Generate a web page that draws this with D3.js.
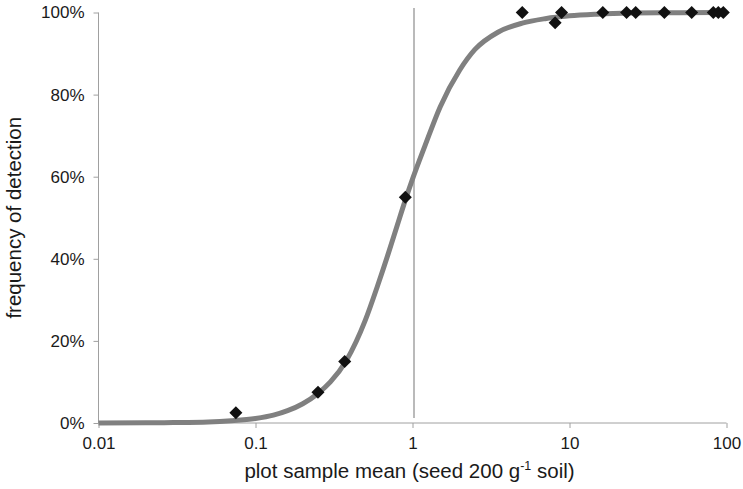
<!DOCTYPE html>
<html>
<head>
<meta charset="utf-8">
<script src="https://cdn.jsdelivr.net/npm/d3@7"></script>
<style>
  html, body { margin: 0; padding: 0; background: #fff; }
  svg { display: block; }
  text { font-family: "Liberation Sans", Arial, sans-serif; fill: #1a1a1a; }
</style>
</head>
<body>
<svg id="chart" width="743" height="489"></svg>
<script>
// Observed detection frequency per plot sample mean (seed 200 g^-1 soil)
const sampleMeans = [0.075, 0.25, 0.37, 0.9, 5.0, 8.1, 8.9, 16.3, 23.1, 26.4, 40.2, 60, 82.4, 88.7, 95.4];
const detectionFreq = [0.025, 0.075, 0.15, 0.55, 1.0, 0.975, 1.0, 1.0, 1.0, 1.0, 1.0, 1.0, 1.0, 1.0, 1.0];

// Fitted detection curve
const curveX = [0.01, 0.02, 0.03, 0.05, 0.07, 0.1, 0.13, 0.16, 0.2, 0.25, 0.3, 0.38, 0.5, 0.6, 0.7, 0.8, 0.9, 1.0, 1.2, 1.5, 2, 2.5, 3.5, 5, 7, 10, 15, 25, 50, 100];
const curveY = [0.0, 0.0005, 0.001, 0.0025, 0.0055, 0.011, 0.019, 0.03, 0.047, 0.072, 0.1, 0.153, 0.25, 0.335, 0.412, 0.482, 0.543, 0.594, 0.675, 0.77, 0.86, 0.91, 0.952, 0.974, 0.985, 0.992, 0.996, 0.9985, 0.9995, 1.0];

// Axis ticks and reference line
const xTicks = [0.01, 0.1, 1, 10, 100];
const xTickLabels = ["0.01", "0.1", "1", "10", "100"];
const yTicks = [0, 0.2, 0.4, 0.6, 0.8, 1.0];
const yTickLabels = ["0%", "20%", "40%", "60%", "80%", "100%"];
const referenceX = 1;

const svg = d3.select("#chart");
const plotLeft = 98.5, plotRight = 726.5, plotTop = 12.5, plotBottom = 423;

const x = d3.scaleLog().domain([0.01, 100]).range([plotLeft, plotRight]);
const y = d3.scaleLinear().domain([0, 1]).range([plotBottom, plotTop]);

const axisColor = "#a0a0a0";
const tickFont = 17;

// Y axis
const yAxis = svg.append("g")
  .attr("transform", `translate(${plotLeft},0)`)
  .call(d3.axisLeft(y).tickValues(yTicks).tickFormat((d, i) => yTickLabels[i]).tickSize(5).tickPadding(9));
yAxis.select(".domain").attr("stroke", axisColor).attr("d", `M0,${plotTop}V${plotBottom}`);
yAxis.selectAll(".tick line").attr("stroke", axisColor);
yAxis.selectAll(".tick text").attr("font-size", tickFont).attr("fill", "#1a1a1a")
  .style("font-family", '"Liberation Sans", Arial, sans-serif');

// X axis
const xAxis = svg.append("g")
  .attr("transform", `translate(0,${plotBottom})`)
  .call(d3.axisBottom(x).tickValues(xTicks).tickFormat((d, i) => xTickLabels[i]).tickSize(5).tickPadding(9));
xAxis.select(".domain").attr("stroke", axisColor).attr("d", `M${plotLeft},0H${plotRight}`);
xAxis.selectAll(".tick line").attr("stroke", axisColor);
xAxis.selectAll(".tick text").attr("font-size", tickFont).attr("fill", "#1a1a1a")
  .style("font-family", '"Liberation Sans", Arial, sans-serif');

// Vertical reference line at a sample mean of 1
svg.append("line")
  .attr("x1", x(referenceX) + 1.5).attr("x2", x(referenceX) + 1.5)
  .attr("y1", 8).attr("y2", 418)
  .attr("stroke", "#8c8c8c").attr("stroke-width", 1.2);

// Fitted curve
const curvePts = curveX.map((v, i) => [v, curveY[i]]);
svg.append("path")
  .datum(curvePts)
  .attr("fill", "none")
  .attr("stroke", "#808080")
  .attr("stroke-width", 5)
  .attr("d", d3.line().x(d => x(d[0])).y(d => y(d[1])).curve(d3.curveMonotoneX));

// Observed points as diamonds
const diamond = d3.symbol().type(d3.symbolSquare).size(85);
svg.append("g").selectAll("path")
  .data(sampleMeans.map((v, i) => [v, detectionFreq[i]]))
  .join("path")
  .attr("d", diamond)
  .attr("transform", d => `translate(${x(d[0])},${y(d[1])}) rotate(45)`)
  .attr("fill", "#111");

// Axis titles
const titleFont = 20.5;
const xTitle = svg.append("text")
  .attr("x", (plotLeft + plotRight) / 2 - 3)
  .attr("y", 478)
  .attr("text-anchor", "middle")
  .attr("font-size", titleFont);
xTitle.append("tspan").text("plot sample mean (seed 200 g");
xTitle.append("tspan").attr("font-size", 12.5).attr("dy", -8).text("-1");
xTitle.append("tspan").attr("dy", 8).text(" soil)");

svg.append("text")
  .attr("transform", `translate(21,${(plotTop + plotBottom) / 2}) rotate(-90)`)
  .attr("text-anchor", "middle")
  .attr("font-size", titleFont)
  .text("frequency of detection");
</script>
</body>
</html>
